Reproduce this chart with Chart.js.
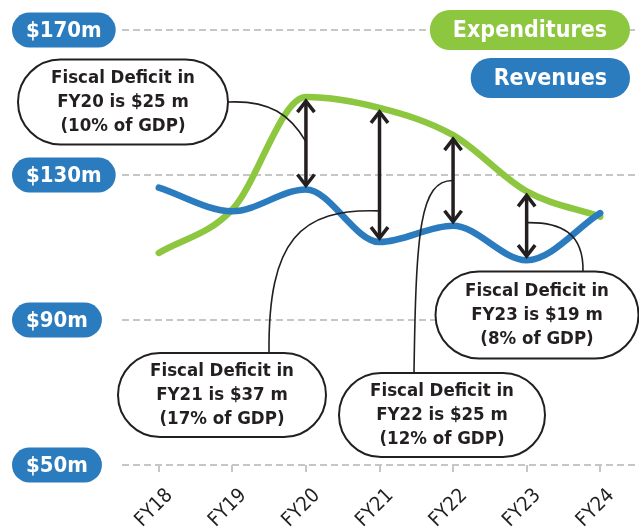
<!DOCTYPE html>
<html>
<head>
<meta charset="UTF-8">
<title>Fiscal Deficit</title>
<script src="https://cdn.jsdelivr.net/npm/chart.js@4.4.0/dist/chart.umd.min.js"></script>
<style>
    html, body { margin: 0; padding: 0; background: #fff; }
    #wrap { width: 639px; height: 529px; }
</style>
</head>
<body>
<div id="wrap"><canvas id="deficitChart"></canvas></div>
<script>
// values ($m)
var years = ['FY18', 'FY19', 'FY20', 'FY21', 'FY22', 'FY23', 'FY24'];
var expenditures = [108.5, 120.5, 151.5, 148.5, 141, 125.5, 118.5];
var revenues = [126.5, 120, 126, 111.5, 116, 106.5, 119.5];
var yTicks = [50, 90, 130, 170];
var deficitYears = ['FY20', 'FY21', 'FY22', 'FY23'];
var deficitNotes = [
    ['Fiscal Deficit in', 'FY20 is $25 m', '(10% of GDP)'],
    ['Fiscal Deficit in', 'FY21 is $37 m', '(17% of GDP)'],
    ['Fiscal Deficit in', 'FY22 is $25 m', '(12% of GDP)'],
    ['Fiscal Deficit in', 'FY23 is $19 m', '(8% of GDP)']
];

var FONT = '"DejaVu Sans Condensed", "Liberation Sans Narrow", sans-serif';
var GREEN = '#8dc63f';
var BLUE = '#2b7bbf';
var INK = '#231f20';
var GRID = '#c6c6c6';

// callout boxes (cx, cy, w, h) and connector curves, in pixels
var bubbles = [
    { cx: 123, cy: 102, w: 210, h: 85, from: [228, 102], c1: [270, 100], c2: [290, 115], t: 0.48 },
    { cx: 222, cy: 395, w: 208, h: 84, from: [269, 353], c1: [268, 240], c2: [300, 208], t: 0.78 },
    { cx: 442, cy: 415, w: 206, h: 84, from: [414, 373], c1: [416, 230], c2: [420, 180], t: 0.5 },
    { cx: 537, cy: 315, w: 203, h: 87, from: [583, 272], c1: [584, 232], c2: [560, 222], t: 0.45 }
];

function pill(ctx, x, y, w, h) {
    var r = h / 2;
    ctx.beginPath();
    ctx.moveTo(x + r, y);
    ctx.lineTo(x + w - r, y);
    ctx.arc(x + w - r, y + r, r, -Math.PI / 2, Math.PI / 2);
    ctx.lineTo(x + r, y + h);
    ctx.arc(x + r, y + r, r, Math.PI / 2, Math.PI * 1.5);
    ctx.closePath();
}

var decorations = {
    id: 'decorations',
    afterDatasetsDraw: function (chart) {
        var ctx = chart.ctx;
        var xs = chart.scales.x, ys = chart.scales.y;
        ctx.save();

        // double arrows between the two lines
        var arrowPts = [];
        deficitYears.forEach(function (yr) {
            var i = years.indexOf(yr);
            var x = xs.getPixelForValue(i);
            var top = ys.getPixelForValue(expenditures[i]) + 3;
            var bot = ys.getPixelForValue(revenues[i]) - 3;
            arrowPts.push({ x: x, top: top, bot: bot });
            ctx.strokeStyle = INK;
            ctx.lineWidth = 3.5;
            ctx.lineCap = 'butt';
            ctx.beginPath();
            ctx.moveTo(x, top + 2);
            ctx.lineTo(x, bot - 2);
            ctx.stroke();
            ctx.lineJoin = 'miter';
            ctx.beginPath();
            ctx.moveTo(x - 8.5, top + 12); ctx.lineTo(x, top + 1); ctx.lineTo(x + 8.5, top + 12);
            ctx.moveTo(x - 8.5, bot - 12); ctx.lineTo(x, bot - 1); ctx.lineTo(x + 8.5, bot - 12);
            ctx.stroke();
        });

        // connectors
        ctx.lineWidth = 1.6;
        ctx.strokeStyle = INK;
        bubbles.forEach(function (b, k) {
            var a = arrowPts[k];
            ctx.beginPath();
            ctx.moveTo(b.from[0], b.from[1]);
            ctx.bezierCurveTo(b.c1[0], b.c1[1], b.c2[0], b.c2[1], a.x, a.top + (a.bot - a.top) * b.t);
            ctx.stroke();
        });

        // callout boxes
        bubbles.forEach(function (b, k) {
            pill(ctx, b.cx - b.w / 2, b.cy - b.h / 2, b.w, b.h);
            ctx.fillStyle = '#fff';
            ctx.fill();
            ctx.lineWidth = 2;
            ctx.strokeStyle = INK;
            ctx.stroke();
            ctx.fillStyle = INK;
            ctx.font = 'bold 18.5px ' + FONT;
            ctx.textAlign = 'center';
            ctx.textBaseline = 'middle';
            deficitNotes[k].forEach(function (line, j) {
                ctx.fillText(line, b.cx, b.cy + (j - 1) * 24);
            });
        });

        // y axis value pills
        ctx.font = 'bold 22px ' + FONT;
        yTicks.forEach(function (v) {
            var y = ys.getPixelForValue(v);
            var label = '$' + v + 'm';
            var w = ctx.measureText(label).width + 28;
            pill(ctx, 12, y - 17.5, w, 35);
            ctx.fillStyle = BLUE;
            ctx.fill();
            ctx.fillStyle = '#fff';
            ctx.textAlign = 'center';
            ctx.textBaseline = 'middle';
            ctx.fillText(label, 12 + w / 2, y + 1);
        });

        // legend pills
        var legendItems = [['Expenditures', GREEN], ['Revenues', BLUE]];
        var ly = ys.getPixelForValue(170);
        ctx.font = 'bold 23px ' + FONT;
        legendItems.forEach(function (item, k) {
            var w = ctx.measureText(item[0]).width + 46;
            var y = ly + k * 48;
            pill(ctx, 630 - w, y - 20, w, 40);
            ctx.fillStyle = item[1];
            ctx.fill();
            ctx.fillStyle = '#fff';
            ctx.textAlign = 'center';
            ctx.textBaseline = 'middle';
            ctx.fillText(item[0], 630 - w / 2, y + 1);
        });

        ctx.restore();
    }
};

new Chart(document.getElementById('deficitChart'), {
    type: 'line',
    data: {
        labels: years,
        datasets: [{
            label: 'Revenues',
            data: revenues,
            borderColor: BLUE,
            borderWidth: 6.5,
            borderCapStyle: 'round',
            pointRadius: 0,
            cubicInterpolationMode: 'monotone'
        }, {
            label: 'Expenditures',
            data: expenditures,
            borderColor: GREEN,
            borderWidth: 6.5,
            borderCapStyle: 'round',
            pointRadius: 0,
            cubicInterpolationMode: 'monotone'
        }]
    },
    options: {
        responsive: true,
        maintainAspectRatio: false,
        animation: false,
        layout: { padding: { left: 122, top: 30, right: 2, bottom: 0 } },
        plugins: { legend: { display: false }, tooltip: { enabled: false } },
        scales: {
            x: {
                offset: true,
                grid: { drawOnChartArea: false, tickLength: 7, color: GRID, lineWidth: 2 },
                border: { display: false },
                ticks: {
                    font: { family: FONT, size: 20 },
                    color: INK,
                    minRotation: 45,
                    maxRotation: 45,
                    padding: 12,
                    labelOffset: 11
                },
                afterFit: function (s) { s.height = 64; }
            },
            y: {
                min: 50,
                max: 170,
                afterBuildTicks: function (s) { s.ticks = yTicks.map(function (v) { return { value: v }; }); },
                ticks: { display: false },
                grid: { drawTicks: false, color: GRID, lineWidth: 2 },
                border: { display: false, dash: [7, 4] },
                afterFit: function (s) { s.width = 0; }
            }
        }
    },
    plugins: [decorations]
});
</script>
</body>
</html>
